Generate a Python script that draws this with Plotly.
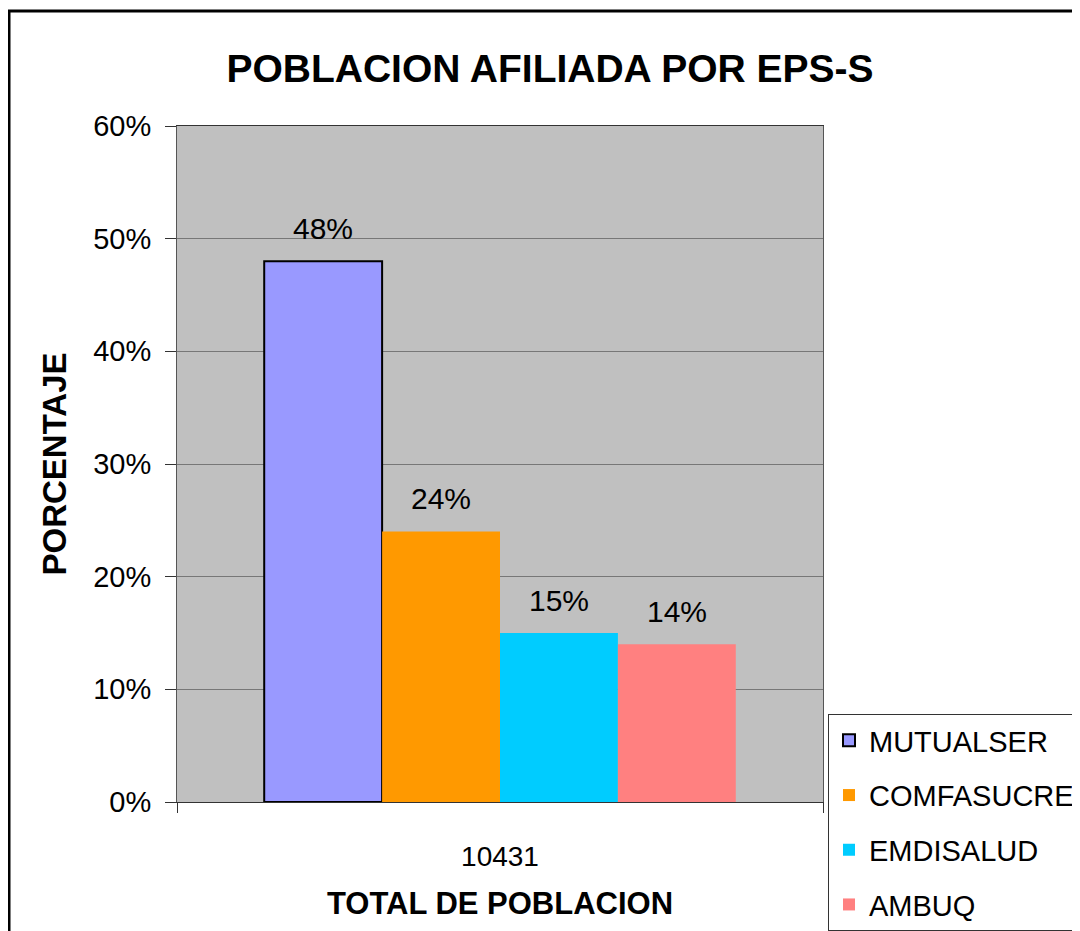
import plotly.graph_objects as go

# datos del grafico
categorias = ["10431"]
eps = ["MUTUALSER", "COMFASUCRE", "EMDISALUD", "AMBUQ"]
porcentajes = [0.48, 0.24, 0.15, 0.14]
etiquetas = ["48%", "24%", "15%", "14%"]
colores = ["#9999FF", "#FF9900", "#00CCFF", "#FF8080"]
y_ticks = [0, 0.1, 0.2, 0.3, 0.4, 0.5, 0.6]

FUENTE = "Liberation Sans, Arial, sans-serif"

# zona de trazado en pixeles de pantalla (la pagina tiene 8px de margen)
OFF = 8
L, R, T, B = 177, 823, 126, 802
W, H = 1080, 931
def px_x(p):
    return (p - L) / (R - L)
def px_y(p):
    return (B - p) / (B - T)

BARGAP = 0.27
ancho_barra = (R - L) * (1 - BARGAP) / len(eps)

fig = go.Figure()
for i, nombre in enumerate(eps):
    fig.add_trace(go.Bar(
        name=nombre,
        x=categorias,
        y=[porcentajes[i]],
        marker_color=colores[i],
        marker_line_color="black" if i == 0 else colores[i],
        marker_line_width=2 if i == 0 else 0,
        legendgroup=nombre,
    ))
    # etiqueta de valor sobre cada barra (x = indice de la categoria)
    fig.add_annotation(
        x=0, y=porcentajes[i], text=etiquetas[i],
        showarrow=False, xshift=(i - 1.5) * ancho_barra, yshift=33,
        yanchor="middle", font=dict(size=30, color="black", family=FUENTE),
    )

# marco exterior del grafico
fig.add_shape(type="rect", xref="paper", yref="paper",
              x0=px_x(9), x1=px_x(1100), y0=px_y(950), y1=px_y(11),
              line=dict(color="black", width=3), layer="below")

fig.update_layout(
    width=W, height=H,
    margin=dict(l=L - OFF, r=W - R + OFF, t=T - OFF, b=H - B + OFF, autoexpand=False),
    paper_bgcolor="white",
    plot_bgcolor="#C0C0C0",
    barmode="group",
    bargap=BARGAP,
    bargroupgap=0,
    font=dict(family=FUENTE, color="black", size=29),
    title=dict(text="<b>POBLACION AFILIADA POR EPS-S</b>",
               x=(550 - OFF) / W, xanchor="center", y=1 - (68 - OFF) / H, yanchor="middle",
               font=dict(size=39, family=FUENTE, color="black")),
    legend=dict(x=px_x(828), xanchor="left", y=px_y(714), yanchor="top",
                bgcolor="white", bordercolor="#333333", borderwidth=1,
                font=dict(size=29, family=FUENTE), tracegroupgap=14,
                itemwidth=30),
    showlegend=True,
)

fig.update_yaxes(
    range=[0, 0.6], tickvals=y_ticks, tickformat=".0%",
    showgrid=True, gridcolor="#777777", gridwidth=1,
    ticks="outside", ticklen=11, tickcolor="#333333",
    ticklabelstandoff=8,
    showline=True, linecolor="#555555", linewidth=1, mirror=True,
    tickfont=dict(size=29),
    zeroline=False,
    title=dict(text="<b>PORCENTAJE</b>", font=dict(size=33), standoff=16),
)
fig.update_xaxes(
    type="category", range=[-0.5, len(categorias) - 0.5], tickson="boundaries",
    ticks="outside", ticklen=10, tickcolor="#333333",
    ticklabelstandoff=29, tickangle=0,
    showline=True, linecolor="#333333", linewidth=1, mirror=True,
    tickfont=dict(size=28),
    title=dict(text="<b>TOTAL DE POBLACION</b>", font=dict(size=31), standoff=21),
)

fig.write_html("out.html")
